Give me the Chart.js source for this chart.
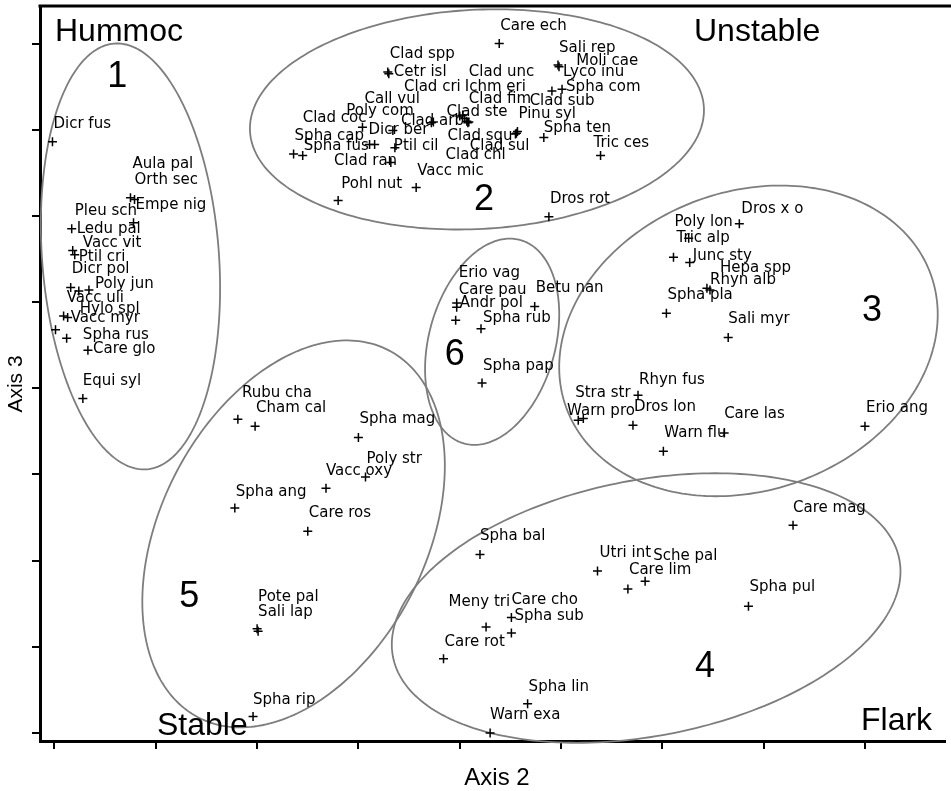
<!DOCTYPE html>
<html>
<head>
<meta charset="utf-8">
<title>Ordination: Axis 2 vs Axis 3</title>
<script src="https://cdn.jsdelivr.net/npm/chart.js@4.4.1/dist/chart.umd.min.js"></script>
<style>
  html, body { margin: 0; padding: 0; background: #fff; }
  #wrap { position: relative; width: 951px; height: 791px; }
</style>
</head>
<body>
<div id="wrap"><canvas id="ordination"></canvas></div>
<script>
// ----------------------------------------------------
// Species scores (axis 2 / axis 3) and where their labels sit
// ----------------------------------------------------
const species = [
  // group 1
  'Dicr fus', 'Aula pal', 'Orth sec', 'Empe nig', 'Pleu sch', 'Ledu pal', 'Vacc vit', 'Ptil cri',
  'Dicr pol', 'Poly jun', 'Vacc uli', 'Hylo spl', 'Vacc myr', 'Spha rus', 'Care glo', 'Equi syl',
  // group 2
  'Care ech', 'Clad spp', 'Cetr isl', 'Clad unc', 'Sali rep', 'Moli cae', 'Lyco inu', 'Clad cri',
  'Ichm eri', 'Spha com', 'Call vul', 'Clad fim', 'Clad sub', 'Poly com', 'Clad ste', 'Pinu syl',
  'Clad coc', 'Clad arb', 'Spha cap', 'Dicr ber', 'Clad squ', 'Spha ten', 'Spha fus', 'Ptil cil',
  'Clad sul', 'Tric ces', 'Clad ran', 'Clad chl', 'Vacc mic', 'Pohl nut', 'Dros rot',
  // group 3
  'Dros x o', 'Poly lon', 'Tric alp', 'Junc sty', 'Hepa spp', 'Rhyn alb', 'Spha pla', 'Sali myr',
  'Rhyn fus', 'Stra str', 'Warn pro', 'Dros lon', 'Care las', 'Warn flu', 'Erio ang',
  // group 6
  'Erio vag', 'Care pau', 'Andr pol', 'Betu nan', 'Spha rub', 'Spha pap',
  // group 5
  'Rubu cha', 'Cham cal', 'Spha mag', 'Poly str', 'Vacc oxy', 'Spha ang', 'Care ros', 'Pote pal',
  'Sali lap', 'Spha rip',
  // group 4
  'Care mag', 'Spha bal', 'Utri int', 'Sche pal', 'Care lim', 'Spha pul', 'Meny tri', 'Care cho',
  'Spha sub', 'Care rot', 'Spha lin', 'Warn exa'
];

const axis2 = [
  -0.02, 0.75, 0.79, 0.78, 0.17, 0.18, 0.20, 0.24, 0.16, 0.34, 0.01, 0.09, 0.13, 0.12, 0.33, 0.28,
  4.39, 3.29, 3.30, 4.03, 4.97, 4.98, 4.91, 3.74, 4.05, 5.01, 3.16, 4.09, 4.57, 3.34, 4.00, 4.55,
  3.11, 3.72, 2.36, 3.04, 4.56, 4.83, 2.45, 3.36, 4.08, 5.39, 3.32, 4.07, 3.57, 2.80, 4.88,
  6.76, 6.11, 6.26, 6.27, 6.47, 6.44, 6.04, 6.65, 5.76, 5.22, 5.17, 5.71, 6.61, 6.01, 8.00,
  3.97, 3.97, 3.96, 4.74, 4.21, 4.22,
  1.81, 1.98, 3.00, 3.07, 2.68, 1.78, 2.50, 2.00, 2.01, 1.96,
  7.29, 4.20, 5.36, 5.83, 5.66, 6.85, 4.26, 4.51, 4.51, 3.84, 4.67, 4.30
];

const axis3 = [
  6.86, 6.21, 6.19, 5.92, 5.85, 5.60, 5.55, 5.13, 5.17, 5.14, 4.68, 4.84, 4.82, 4.58, 4.44, 3.88,
  8.00, 7.67, 7.65, 7.17, 7.75, 7.73, 7.45, 7.09, 7.13, 7.47, 6.83, 7.09, 6.98, 6.99, 7.16, 6.95,
  6.83, 7.08, 6.72, 7.03, 6.96, 6.91, 6.70, 6.79, 7.08, 6.70, 6.62, 7.10, 6.33, 6.18, 5.99,
  5.91, 5.52, 5.74, 5.46, 5.14, 5.16, 4.87, 4.59, 3.92, 3.65, 3.63, 3.57, 3.48, 3.27, 3.56,
  4.99, 4.94, 4.79, 4.95, 4.69, 4.06,
  3.64, 3.56, 3.43, 2.97, 2.84, 2.61, 2.34, 1.21, 1.18, 0.19,
  2.41, 2.07, 1.88, 1.76, 1.67, 1.47, 1.23, 1.34, 1.16, 0.86, 0.34, 0.00
];

// label anchors (left edge, middle) in the same axis units
const labelAxis2 = [
  -0.01, 0.77, 0.79, 0.80, 0.20, 0.22, 0.28, 0.24, 0.17, 0.40, 0.12, 0.25, 0.16, 0.28, 0.38, 0.28,
  4.40, 3.31, 3.35, 4.09, 4.98, 5.15, 5.02, 3.45, 4.05, 5.05, 3.06, 4.09, 4.69, 2.88, 3.87, 4.58,
  2.45, 3.42, 2.37, 3.10, 3.88, 4.83, 2.46, 3.35, 4.10, 5.32, 2.76, 3.86, 3.58, 2.83, 4.89,
  6.78, 6.12, 6.14, 6.30, 6.57, 6.47, 6.05, 6.65, 5.77, 5.14, 5.06, 5.72, 6.61, 6.02, 8.01,
  3.99, 3.99, 4.00, 4.75, 4.23, 4.23,
  1.85, 1.99, 3.01, 3.08, 2.68, 1.79, 2.51, 2.01, 2.01, 1.96,
  7.29, 4.20, 5.38, 5.91, 5.67, 6.86, 3.89, 4.51, 4.54, 3.85, 4.68, 4.30
];

const labelAxis3 = [
  7.06, 6.60, 6.42, 6.12, 6.06, 5.85, 5.69, 5.52, 5.38, 5.21, 5.05, 4.92, 4.81, 4.62, 4.45, 4.08,
  8.20, 7.88, 7.67, 7.67, 7.95, 7.80, 7.67, 7.50, 7.50, 7.50, 7.36, 7.35, 7.33, 7.22, 7.21, 7.18,
  7.13, 7.10, 6.93, 7.00, 6.93, 7.02, 6.81, 6.81, 6.81, 6.85, 6.64, 6.70, 6.52, 6.37, 6.20,
  6.08, 5.93, 5.74, 5.53, 5.39, 5.25, 5.08, 4.80, 4.10, 3.94, 3.73, 3.78, 3.70, 3.48, 3.77,
  5.34, 5.14, 4.99, 5.16, 4.82, 4.26,
  3.94, 3.77, 3.64, 3.18, 3.04, 2.80, 2.55, 1.58, 1.40, 0.38,
  2.61, 2.28, 2.09, 2.05, 1.89, 1.69, 1.52, 1.54, 1.36, 1.05, 0.53, 0.21
];

// ----------------------------------------------------
// Groups: ellipse centre + two conjugate semi-axes, and the group number position
// ----------------------------------------------------
const groupNames = ['1', '2', '3', '4', '5', '6'];
const groupLabelAxis2 = [0.62, 4.24, 8.07, 6.42, 1.33, 3.95];
const groupLabelAxis3 = [7.61, 6.18, 4.90, 0.76, 1.58, 4.38];
const ellipseCenterX = [0.75, 4.17, 6.85, 5.84, 2.36, 4.32];
const ellipseCenterY = [5.53, 7.12, 4.55, 1.45, 2.31, 4.54];
const ellipseUX = [0.16, 2.24, 1.80, 2.50, 0.94, 0.28];
const ellipseUY = [-2.47, 0.14, 0.77, 0.56, 2.13, 1.18];
const ellipseVX = [-0.87, 0.06, 0.50, 0.23, 1.16, 0.60];
const ellipseVY = [-0.08, -1.27, -1.63, -1.46, -0.71, -0.20];

const habitats = ['Hummoc', 'Unstable', 'Stable', 'Flark'];

const xTicks = [0, 1, 2, 3, 4, 5, 6, 7, 8];
const yTicks = [0, 1, 2, 3, 4, 5, 6, 7, 8];

// ----------------------------------------------------
// Plugins
// ----------------------------------------------------
const ellipsePlugin = {
    id: 'groupEllipses',
    beforeDatasetsDraw(chart) {
        const { ctx, scales: { x, y } } = chart;
        ctx.save();
        ctx.strokeStyle = '#7d7d7d';
        ctx.lineWidth = 1.8;
        for (let g = 0; g < groupNames.length; g++) {
            ctx.beginPath();
            for (let k = 0; k <= 240; k++) {
                const t = k / 240 * Math.PI * 2;
                const vx = ellipseCenterX[g] + ellipseUX[g] * Math.cos(t) + ellipseVX[g] * Math.sin(t);
                const vy = ellipseCenterY[g] + ellipseUY[g] * Math.cos(t) + ellipseVY[g] * Math.sin(t);
                const px = x.getPixelForValue(vx);
                const py = y.getPixelForValue(vy);
                if (k === 0) ctx.moveTo(px, py); else ctx.lineTo(px, py);
            }
            ctx.closePath();
            ctx.stroke();
        }
        ctx.restore();
    }
};

const textPlugin = {
    id: 'ordinationText',
    afterDatasetsDraw(chart) {
        const { ctx, chartArea: area, scales: { x, y } } = chart;
        ctx.save();
        ctx.fillStyle = '#000';

        // species labels
        ctx.font = '15px "DejaVu Sans", sans-serif';
        ctx.textAlign = 'left';
        ctx.textBaseline = 'middle';
        species.forEach((name, i) => {
            ctx.fillText(name, x.getPixelForValue(labelAxis2[i]), y.getPixelForValue(labelAxis3[i]));
        });

        // group numbers
        ctx.font = '36px "Liberation Sans", Arial, sans-serif';
        ctx.textAlign = 'center';
        groupNames.forEach((n, g) => {
            ctx.fillText(n, x.getPixelForValue(groupLabelAxis2[g]), y.getPixelForValue(groupLabelAxis3[g]));
        });

        // habitat corners
        ctx.font = '32px "Liberation Sans", Arial, sans-serif';
        ctx.textAlign = 'left';
        ctx.fillText(habitats[0], area.left + 15, area.top + 26);
        ctx.fillText(habitats[1], area.right - 251, area.top + 26);
        ctx.fillText(habitats[2], area.left + 117, area.bottom - 15);
        ctx.fillText(habitats[3], area.right - 84, area.bottom - 20);

        // top frame line
        ctx.strokeStyle = '#000';
        ctx.lineWidth = 3;
        ctx.beginPath();
        ctx.moveTo(area.left - 1.5, area.top);
        ctx.lineTo(chart.width, area.top);
        ctx.stroke();

        // axis titles
        ctx.font = '24px "Liberation Sans", Arial, sans-serif';
        ctx.textAlign = 'center';
        ctx.fillText('Axis 2', 497, area.bottom + 37);
        ctx.save();
        ctx.translate(16, 384);
        ctx.rotate(-Math.PI / 2);
        ctx.font = '21px "Liberation Sans", Arial, sans-serif';
        ctx.fillText('Axis 3', 0, 0);
        ctx.restore();

        ctx.restore();
    }
};

// ----------------------------------------------------
// Chart
// ----------------------------------------------------
const tickGrid = {
    display: true,
    drawOnChartArea: false,
    drawTicks: true,
    tickLength: 8,
    color: '#000',
    lineWidth: 2
};

new Chart(document.getElementById('ordination'), {
    type: 'scatter',
    data: {
        datasets: [{
            label: 'Species',
            data: axis2.map((v, i) => ({ x: v, y: axis3[i] })),
            pointStyle: 'cross',
            pointRadius: 4.5,
            pointHoverRadius: 4.5,
            borderColor: '#000',
            borderWidth: 1.5,
            clip: false
        }]
    },
    options: {
        responsive: true,
        maintainAspectRatio: false,
        animation: false,
        events: [],
        layout: { padding: { top: 5, right: 0, left: 0, bottom: 0 } },
        plugins: {
            legend: { display: false },
            tooltip: { enabled: false }
        },
        scales: {
            x: {
                type: 'linear',
                min: -0.143,
                max: 8.79,
                afterBuildTicks: s => { s.ticks = xTicks.map(v => ({ value: v })); },
                afterFit: s => { s.height = 50; },
                grid: tickGrid,
                border: { display: true, color: '#000', width: 3 },
                ticks: { display: false }
            },
            y: {
                type: 'linear',
                min: -0.093,
                max: 8.436,
                afterBuildTicks: s => { s.ticks = yTicks.map(v => ({ value: v })); },
                afterFit: s => { s.width = 40; },
                grid: tickGrid,
                border: { display: true, color: '#000', width: 3 },
                ticks: { display: false }
            }
        }
    },
    plugins: [ellipsePlugin, textPlugin]
});
</script>
</body>
</html>
